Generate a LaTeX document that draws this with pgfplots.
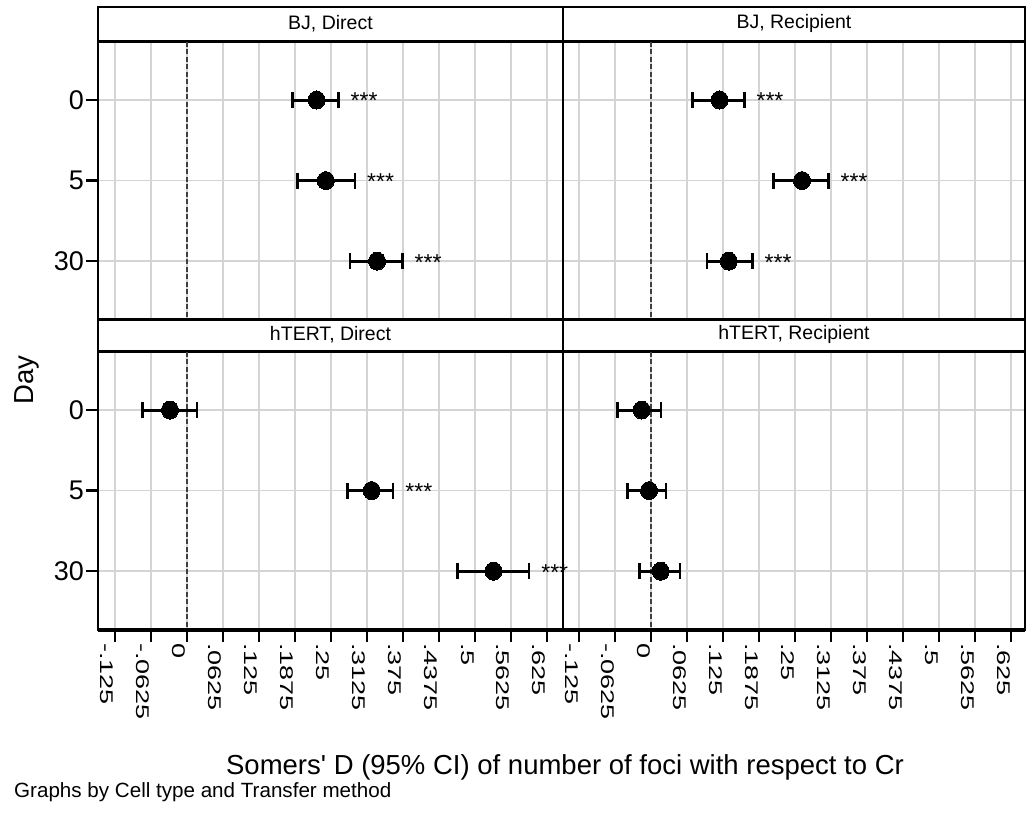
\documentclass[border=0pt]{standalone}
\usepackage{pgfplots}
\pgfplotsset{compat=1.18}
\usepackage{fontspec}
\setmainfont{Liberation Sans}
\usepackage{graphicx}

\newcommand\sq[1]{\scalebox{1}[0.68]{#1}}
\newcommand\hdrfont{\fontsize{19.5}{23}\selectfont}
\newcommand\starfont{\fontsize{23}{26}\selectfont}
\newcommand\tickfont{\fontsize{27}{32}\selectfont}
\newcommand\labfont{\fontsize{27.5}{32}\selectfont}
\newcommand\notefont{\fontsize{20.6}{24}\selectfont}

\pgfplotsset{
  panel/.style={
    scale only axis,
    height=278pt,
    ymin=0.28, ymax=3.73, y dir=reverse,
    ytick={1,2,3},
    xtick={-0.125,-0.0625,0,0.0625,0.125,0.1875,0.25,0.3125,0.375,0.4375,0.5,0.5625,0.625},
    grid=major,
    major grid style={line width=1.6pt, color=black!17},
    axis line style={line width=2.4pt, black},
    tick align=outside,
    xtick pos=bottom, ytick pos=left,
    major tick length=12pt,
    major tick style={line width=2.2pt, black},
    clip=false,
    xticklabel style={font=\tickfont, rotate=-90, anchor=north west, inner sep=1pt},
    yticklabel style={font=\tickfont, inner sep=2pt},
  },
  leftp/.style={width=465pt, xmin=-0.1545, xmax=0.6528},
  rightp/.style={width=462pt, xmin=-0.1528, xmax=0.649},
  toprow/.style={xmajorticks=false, xticklabels={}},
  botrow/.style={xticklabels={\sq{-.125},\sq{-.0625},\sq{0},\sq{.0625},\sq{.125},\sq{.1875},\sq{.25},\sq{.3125},\sq{.375},\sq{.4375},\sq{.5},\sq{.5625},\sq{.625}}},
  leftcol/.style={yticklabels={0,5,30}},
  rightcol/.style={ymajorticks=false, yticklabels={}},
  hdr/.style n args={3}{extra description/.code={%
      \node[draw, line width=2.4pt, minimum width=#1, minimum height=#2, inner sep=0pt, anchor=south, font=\hdrfont] at (0.5,1) {\raisebox{1.5pt}{#3}};}},
  hdrb/.style n args={3}{extra description/.code={%
      \node[draw, line width=2.4pt, minimum width=#1, minimum height=#2, inner sep=0pt, anchor=south, font=\hdrfont] at (0.5,1) {\raisebox{1.5pt}{#3}};
      \draw[line width=3.6pt] (0,0) -- (1,0);}},
  zeroline/.style={draw=black!75, line width=2.4pt, dash pattern=on 5pt off 2.5pt},
  pts/.style={only marks, line width=2.8pt, mark=*, mark size=8.5pt,
    mark options={fill=black, draw=black, line width=0pt, yscale=1.06},
    error bars/.cd, x dir=both, x explicit,
    error mark=|,
    error bar style={line width=3pt, draw=black, solid},
    error mark options={draw=black, line width=2.6pt, mark size=8pt}},
  stars/.style={draw=none, mark=none, nodes near coords={***}, nodes near coords align=horizontal,
    every node near coord/.append style={inner sep=0pt, xshift=12pt, yshift=-1pt, font=\starfont, black}},
}

\begin{document}
\begin{tikzpicture}
\path[use as bounding box] (0,0) rectangle (1026pt,813pt);

% BJ, Direct
\begin{axis}[panel, leftp, toprow, leftcol, hdr={465pt}{34pt}{BJ, Direct}, at={(98pt,493pt)}, anchor=south west]
\addplot[zeroline] coordinates {(0,0.28) (0,3.73)};
\addplot[pts] coordinates {
 (0.225,1) -= (0.042,0) += (0.038,0)
 (0.241,2) -= (0.0495,0) += (0.0507,0)
 (0.330,3) -= (0.047,0) += (0.044,0)
};
\addplot[stars] coordinates {(0.263,1) (0.2917,2) (0.374,3)};
\end{axis}

% BJ, Recipient
\begin{axis}[panel, rightp, toprow, rightcol, hdr={462pt}{34pt}{BJ, Recipient}, at={(563pt,493pt)}, anchor=south west]
\addplot[zeroline] coordinates {(0,0.28) (0,3.73)};
\addplot[pts] coordinates {
 (0.119,1) -= (0.047,0) += (0.043,0)
 (0.262,2) -= (0.050,0) += (0.046,0)
 (0.135,3) -= (0.038,0) += (0.041,0)
};
\addplot[stars] coordinates {(0.162,1) (0.308,2) (0.176,3)};
\end{axis}

% hTERT, Direct
\begin{axis}[panel, leftp, botrow, leftcol, hdrb={465pt}{32pt}{hTERT, Direct}, at={(98pt,183pt)}, anchor=south west]
\addplot[zeroline] coordinates {(0,0.28) (0,3.73)};
\addplot[pts] coordinates {
 (-0.0295,1) -= (0.048,0) += (0.047,0)
 (0.3206,2) -= (0.042,0) += (0.037,0)
 (0.532,3) -= (0.062,0) += (0.062,0)
};
\addplot[stars] coordinates {(0.358,2) (0.594,3)};
\end{axis}

% hTERT, Recipient
\begin{axis}[panel, rightp, botrow, rightcol, hdrb={462pt}{32pt}{hTERT, Recipient}, at={(563pt,183pt)}, anchor=south west]
\addplot[zeroline] coordinates {(0,0.28) (0,3.73)};
\addplot[pts] coordinates {
 (-0.0162,1) -= (0.0417,0) += (0.0336,0)
 (-0.0035,2) -= (0.0375,0) += (0.0295,0)
 (0.0168,3) -= (0.037,0) += (0.0335,0)
};
\end{axis}

\node[rotate=90, anchor=base, font=\labfont] at (33pt,433pt) {Day};
\node[anchor=base, font=\labfont] at (565pt,38pt) {Somers\textquotesingle{} D (95\% CI) of number of foci with respect to Cr};
\node[anchor=base west, font=\notefont, inner sep=0pt] at (14pt,15pt) {Graphs by Cell type and Transfer method};
\end{tikzpicture}
\end{document}
